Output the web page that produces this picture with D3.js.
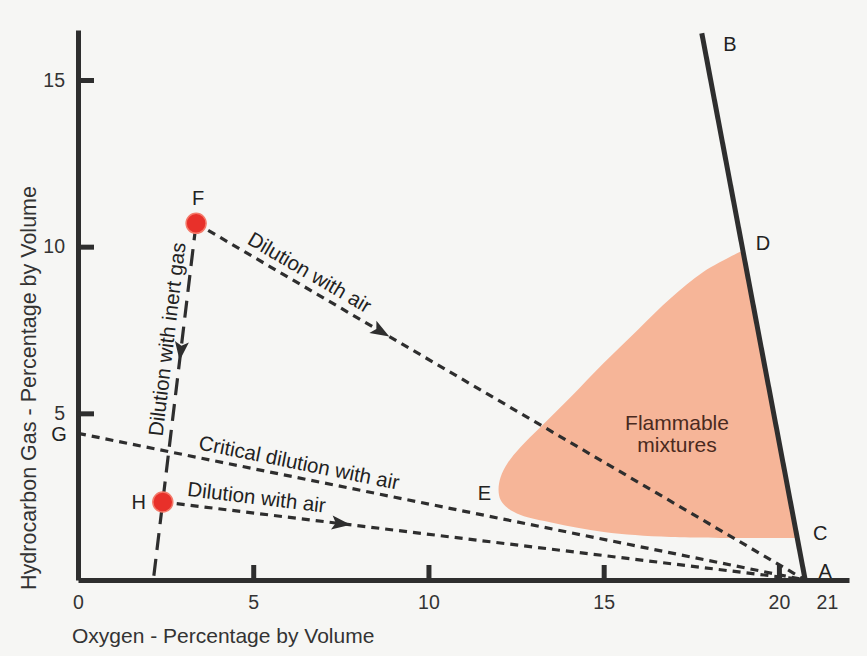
<!DOCTYPE html>
<html>
<head>
<meta charset="utf-8">
<script src="https://cdn.jsdelivr.net/npm/d3@7"></script>
<style>
  body { margin: 0; background: #f6f6f4; }
  svg { display: block; font-family: "Liberation Sans", Arial, sans-serif; }
</style>
</head>
<body>
<svg id="chart"></svg>
<script>
// values
const oxygenTicks = [0, 5, 10, 15, 20, 21];
const gasTicks = [5, 10, 15];

// key points (oxygen %, hydrocarbon %)
const keyNames = ["A", "B", "F", "G", "H", "I"];
const keyO2 = [20.75, 17.8, 3.37, 0, 2.42, 2.15];
const keyGas = [0, 16.4, 10.7, 4.4, 2.34, 0];

// outline of the flammable zone, from D round the curve to C
const zoneO2 = [19.0, 17.85, 16.91, 15.97, 15.0, 14.06, 13.2, 12.63, 12.26, 12.06, 12.0, 12.06, 12.26, 12.63, 13.57, 15.0, 16.91, 20.55];
const zoneGas = [9.9, 9.25, 8.45, 7.5, 6.51, 5.49, 4.59, 3.99, 3.51, 3.09, 2.7, 2.4, 2.16, 1.95, 1.71, 1.44, 1.29, 1.26];

// dilution paths
const dilFrom = ["F", "G", "H", "F"];
const dilTo = ["A", "A", "A", "I"];
const dilText = ["Dilution with air", "Critical dilution with air", "Dilution with air", "Dilution with inert gas"];

const width = 867;
const height = 656;

const svg = d3.select('#chart')
    .attr('width', width)
    .attr('height', height);

const x = d3.scaleLinear().domain([0, 22]).range([78, 849]);
const y = d3.scaleLinear().domain([0, 16.5]).range([580, 30]);

const pt = {};
keyNames.forEach((k, i) => { pt[k] = [x(keyO2[i]), y(keyGas[i])]; });

const ink = '#2e2e2e';

// flammable zone
const zone = zoneO2.map((d, i) => [x(d), y(zoneGas[i])]);
const zoneLine = d3.line().curve(d3.curveCatmullRom.alpha(0.5));
svg.append('path')
    .attr('d', zoneLine(zone) + 'Z')
    .attr('fill', '#f6b598');

svg.append('text')
    .attr('x', 677).attr('y', 422)
    .attr('text-anchor', 'middle')
    .attr('dominant-baseline', 'central')
    .style('font-size', '21px')
    .style('fill', '#4a2a20')
    .text('Flammable');
svg.append('text')
    .attr('x', 677).attr('y', 444)
    .attr('text-anchor', 'middle')
    .attr('dominant-baseline', 'central')
    .style('font-size', '21px')
    .style('fill', '#4a2a20')
    .text('mixtures');

// dashed dilution lines
const textAt = [0.174, 0.30, 0.143, 0.33];
const textOff = [8, 8, 9, 8];
const arrowAt = [0.303, null, 0.277, 0.357];

dilFrom.forEach((f, i) => {
    const p0 = pt[f], p1 = pt[dilTo[i]];
    const inert = dilTo[i] === 'I';
    svg.append('line')
        .attr('x1', p0[0]).attr('y1', p0[1])
        .attr('x2', p1[0]).attr('y2', p1[1])
        .attr('stroke', ink)
        .attr('stroke-width', 3.2)
        .attr('stroke-dasharray', inert ? '17,9' : '8,6');

    const dx = p1[0] - p0[0], dy = p1[1] - p0[1];
    const len = Math.hypot(dx, dy);
    let ux = dx / len, uy = dy / len;
    const ang = Math.atan2(dy, dx) * 180 / Math.PI;

    if (arrowAt[i] !== null) {
        const ax = p0[0] + dx * arrowAt[i], ay = p0[1] + dy * arrowAt[i];
        svg.append('path')
            .attr('d', 'M10,0L-9,-7L-5,0L-9,7Z')
            .attr('transform', `translate(${ax},${ay}) rotate(${ang})`)
            .attr('fill', ink);
    }

    // text reads left to right (or bottom to top)
    let tang = ang;
    if (ux < 0) { ux = -ux; uy = -uy; tang = ang - 180; }
    const nx = uy, ny = -ux;
    const cx = p0[0] + dx * textAt[i] + nx * textOff[i];
    const cy = p0[1] + dy * textAt[i] + ny * textOff[i];
    svg.append('text')
        .attr('transform', `translate(${cx},${cy}) rotate(${tang})`)
        .attr('text-anchor', 'middle')
        .style('font-size', '20.5px')
        .style('fill', '#222')
        .text(dilText[i]);
});

// line B-A
svg.append('line')
    .attr('x1', pt.B[0]).attr('y1', pt.B[1])
    .attr('x2', pt.A[0]).attr('y2', pt.A[1])
    .attr('stroke', ink)
    .attr('stroke-width', 5);

// axes
const xAxis = d3.axisBottom(x)
    .tickValues(oxygenTicks)
    .tickSizeInner(-15)
    .tickSizeOuter(0)
    .tickPadding(15)
    .tickFormat(d3.format('d'));
const gx = svg.append('g')
    .attr('transform', `translate(0,${y(0)})`)
    .call(xAxis);

const yAxis = d3.axisLeft(y)
    .tickValues(gasTicks)
    .tickSizeInner(-16)
    .tickSizeOuter(0)
    .tickPadding(13);
const gy = svg.append('g')
    .attr('transform', `translate(${x(0)},0)`)
    .call(yAxis);

[gx, gy].forEach(g => {
    g.select('.domain').attr('stroke', ink).attr('stroke-width', 5);
    g.selectAll('.tick line').attr('stroke', ink).attr('stroke-width', 5);
    g.selectAll('.tick text')
        .style('font-size', '19.5px')
        .style('font-family', '"Liberation Sans", Arial, sans-serif')
        .attr('fill', '#333');
});
gx.selectAll('.tick').filter(d => d === 0 || d === 21).select('line').remove();
gx.selectAll('.tick').filter(d => d === 21).select('text').attr('dx', 13);

// axis titles
svg.append('text')
    .attr('x', 72).attr('y', 635)
    .attr('dominant-baseline', 'central')
    .style('font-size', '21px')
    .style('fill', '#333')
    .text('Oxygen - Percentage by Volume');
svg.append('text')
    .attr('transform', 'translate(29,388) rotate(-90)')
    .attr('text-anchor', 'middle')
    .attr('dominant-baseline', 'central')
    .style('font-size', '21.5px')
    .style('fill', '#333')
    .text('Hydrocarbon Gas - Percentage by Volume');

// red mixture points
['F', 'H'].forEach(k => {
    svg.append('circle')
        .attr('cx', pt[k][0]).attr('cy', pt[k][1])
        .attr('r', 10)
        .attr('fill', '#e8302a')
        .attr('stroke', '#f47a6a')
        .attr('stroke-width', 1.5);
});

// point letters
const letterDx = { F: 2, H: -24, G: -19, B: 28, A: 20 };
const letterDy = { F: -25, H: 0, G: 1, B: 11, A: -9 };
Object.keys(letterDx).forEach(k => {
    svg.append('text')
        .attr('x', pt[k][0] + letterDx[k])
        .attr('y', pt[k][1] + letterDy[k])
        .attr('text-anchor', 'middle')
        .attr('dominant-baseline', 'central')
        .style('font-size', '20px')
        .style('fill', '#222')
        .text(k);
});
// zone corner letters
const cornerIdx = { D: 0, E: 10, C: zoneO2.length - 1 };
const cornerDx = { D: 19, E: -14, C: 22 };
const cornerDy = { D: -7, E: 3, C: -5 };
Object.keys(cornerIdx).forEach(k => {
    const p = zone[cornerIdx[k]];
    svg.append('text')
        .attr('x', p[0] + cornerDx[k])
        .attr('y', p[1] + cornerDy[k])
        .attr('text-anchor', 'middle')
        .attr('dominant-baseline', 'central')
        .style('font-size', '20px')
        .style('fill', '#222')
        .text(k);
});
</script>
</body>
</html>
